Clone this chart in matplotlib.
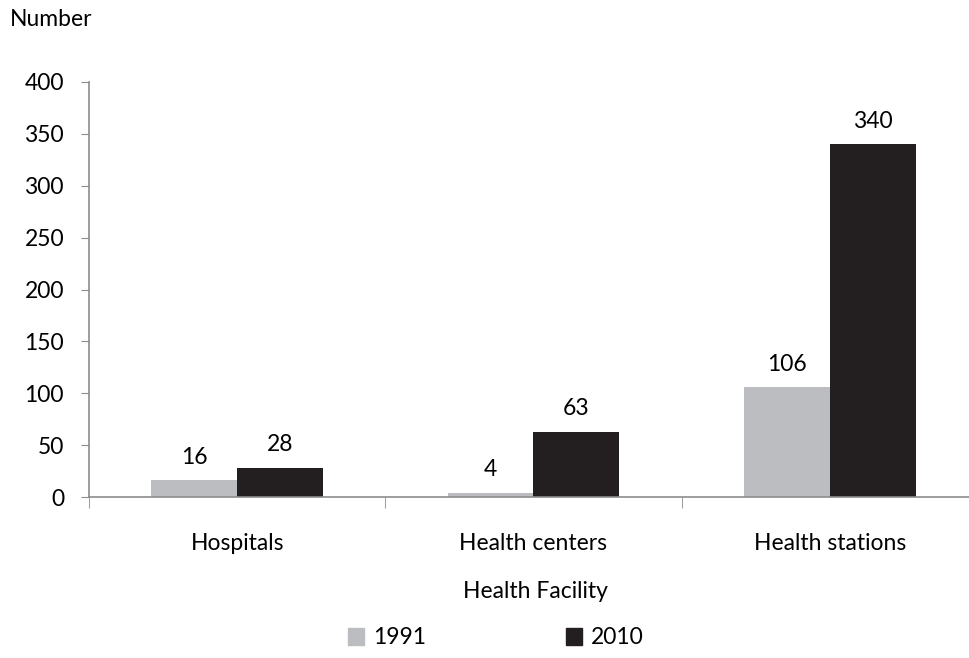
import numpy as np
import matplotlib.pyplot as plt
from matplotlib.patches import Patch

plt.rcParams['font.family'] = ['Lato', 'DejaVu Sans']

categories = ['Hospitals', 'Health centers', 'Health stations']
years = ['1991', '2010']
values_1991 = [16, 4, 106]
values_2010 = [28, 63, 340]
colors = ['#bcbdc0', '#231f20']

fs = 16.5
fig = plt.figure(figsize=(9.69, 6.58), dpi=100)
# axes spans past the right edge, as in the cropped original
ax = fig.add_axes([89 / 969, 161 / 658, 889 / 969, 415 / 658])

x = np.arange(len(categories))
w = 0.29
axis_col = '#8c8c8c'

for vals, off, col in [(values_1991, -w / 2, colors[0]), (values_2010, w / 2, colors[1])]:
    bars = ax.bar(x + off, vals, width=w, color=col, edgecolor='none')
    for b, v in zip(bars, vals):
        ax.annotate(str(v), (b.get_x() + b.get_width() / 2, v),
                    xytext=(0, 9), textcoords='offset points',
                    ha='center', va='bottom', fontsize=fs)

ax.set_xlim(-0.5, 2.5)
ax.set_ylim(0, 400)
ax.set_yticks(range(0, 401, 50))
ax.tick_params(axis='y', labelsize=fs, direction='out', length=6, color=axis_col, pad=12)

ax.set_xticks(x)
ax.set_xticklabels(categories, fontsize=fs)
ax.tick_params(axis='x', length=0, pad=26)
# category boundary ticks
ax.set_xticks([-0.5, 0.5, 1.5], minor=True)
ax.tick_params(axis='x', which='minor', length=8, direction='out', color=axis_col)

for s in ['top', 'right']:
    ax.spines[s].set_visible(False)
for s in ['left', 'bottom']:
    ax.spines[s].set_color(axis_col)
    ax.spines[s].set_linewidth(1.2)

ax.set_xlabel('Health Facility', fontsize=fs)
ax.xaxis.set_label_coords(446 / 889, -84 / 415)
fig.text(10 / 969, 1 - 19 / 658, 'Number', fontsize=fs, va='center', ha='left')

handles = [Patch(color=c) for c in colors]
fig.legend(handles, years, loc='center', bbox_to_anchor=(496 / 969, 1 - 638 / 658),
           ncol=2, frameon=False, fontsize=fs, handlelength=0.7, handleheight=0.7,
           handletextpad=0.4, columnspacing=6.1)

fig.savefig('out.png', dpi=100)
